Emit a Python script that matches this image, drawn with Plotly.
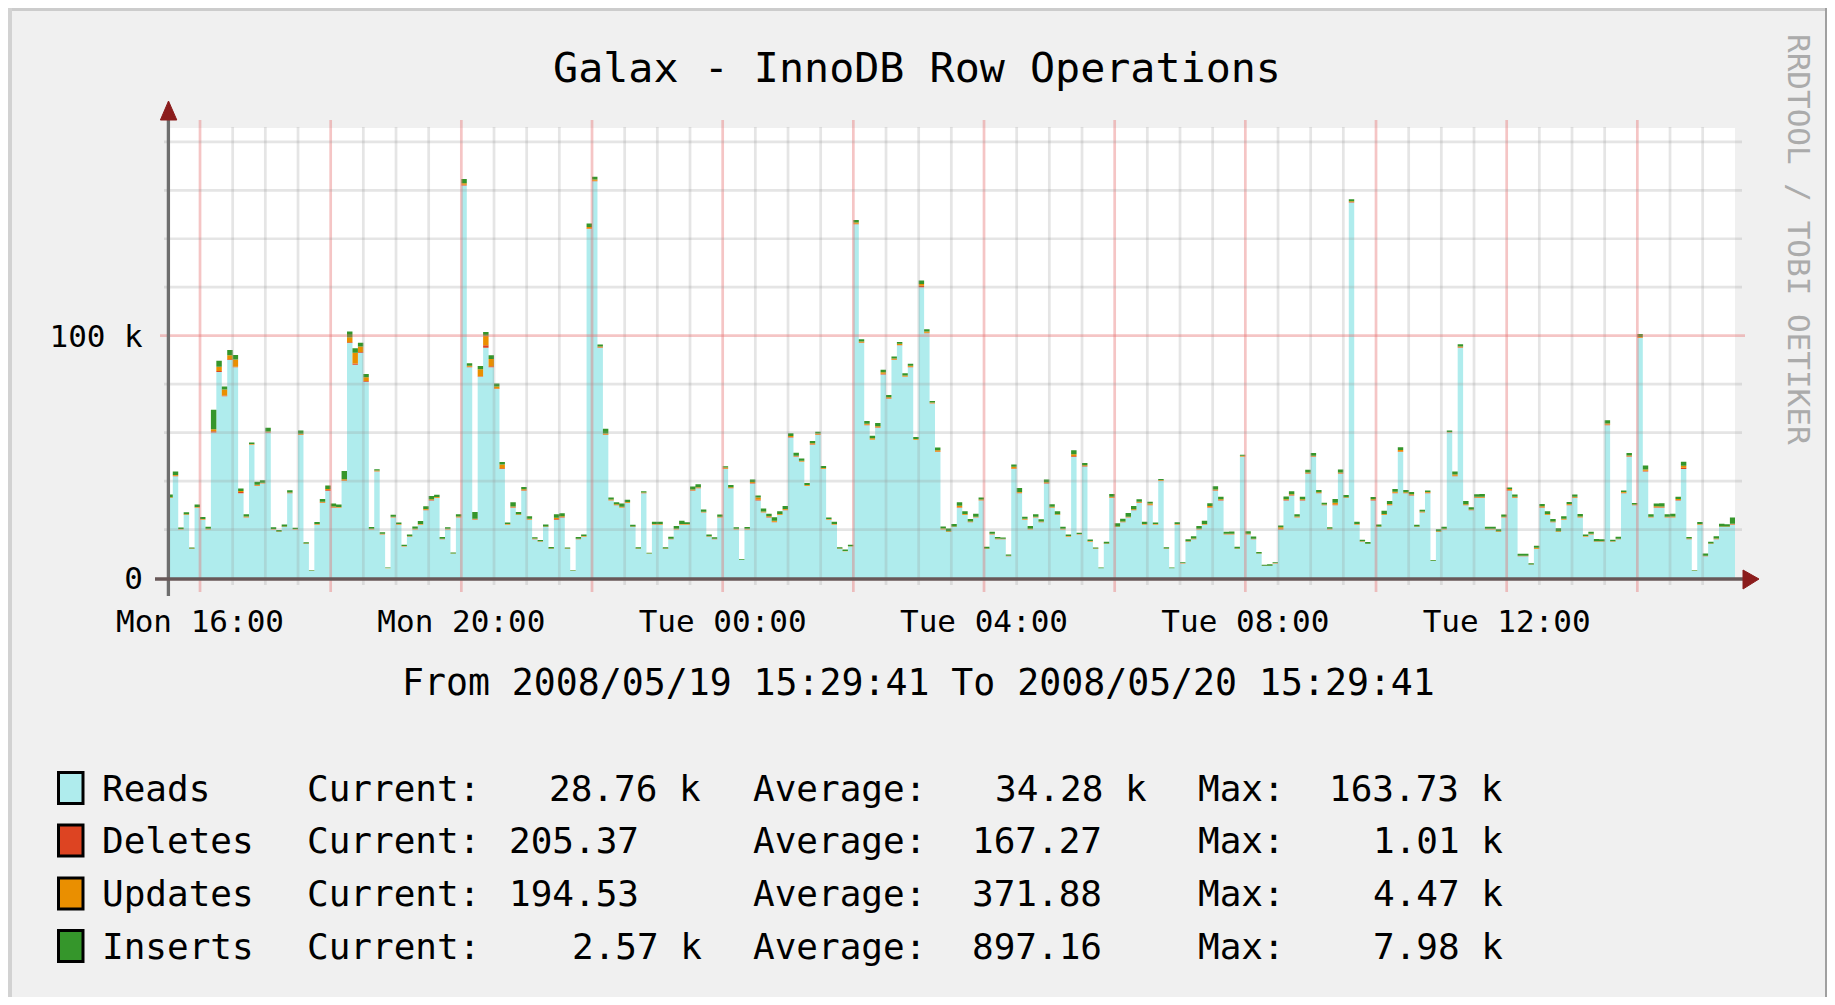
import pandas as pd
import plotly.graph_objects as go

# RRDtool graph "Galax - InnoDB Row Operations", 5 minute steps, values in thousands
START = "2008-05-19 15:29:41"
END = "2008-05-20 15:29:41"
FIRST_STEP = "2008-05-19 15:30:00"

READS_K = [
    33, 42, 20, 26, 12, 29, 24, 20, 60, 85, 75, 90, 87, 35, 25, 55, 38, 39, 60, 20, 19, 21, 35, 20,
    59, 14, 3, 22, 31, 36, 29, 29, 40, 97, 88, 93, 81, 20, 44, 18, 4, 25, 22, 13, 17, 20, 22, 28,
    32, 33, 16, 20, 10, 25, 162, 87, 24, 83, 95, 87, 78, 45, 22, 29, 26, 36, 24, 16, 15, 21, 12, 24,
    25, 12, 3, 16, 17, 144, 163.7, 95, 59, 32, 30, 29, 31, 21, 12, 35, 10, 22, 22, 12, 16, 20, 22, 22,
    36, 37, 27, 17, 16, 25, 45, 37, 20, 7.5, 20, 39, 32, 27, 25, 23, 26, 28, 58, 50, 48, 38, 55, 59,
    45, 24, 22, 12, 11, 13, 146, 97, 63, 57, 62, 84, 74, 90, 96, 83, 87, 57, 120, 101, 72, 52, 20, 19,
    21, 29, 26, 23, 25, 32, 12, 18, 16, 16, 9, 45, 35, 24, 20, 25, 23, 39, 29, 26, 20, 17, 50, 18,
    46, 15, 12, 4, 14, 33, 21, 23, 25, 28, 31, 22, 30, 22, 40, 12, 4, 22, 6, 15, 16, 20, 22, 29,
    36, 32, 18, 18, 12, 50, 18, 16, 10, 5, 5, 6, 20, 32, 34, 25, 32, 43, 50, 35, 30, 20, 30, 43,
    33, 155, 22, 15, 14, 32, 21, 26, 30, 35, 52, 35, 34, 21, 27, 35, 7, 19, 20, 60, 42, 95, 30, 28,
    33, 33, 20, 20, 19, 25, 36, 33, 9, 9, 5.5, 12, 29, 26, 23, 19, 24, 30, 33, 25, 17, 18, 15, 15,
    63, 15, 16, 35, 50, 30, 99, 44, 25, 29, 29, 25, 25, 32, 45, 16, 3, 22, 9, 14, 16, 21, 21, 22,
]

DELETES_K = [
    0.1, 0.2, 0.1, 0.1, 0.05, 0.1, 0.1, 0.1, 0.6, 0.4, 0.3, 0.3, 0.2, 0.5, 0.1, 0.1, 0.2, 0.1, 0.2, 0.1, 0.1, 0.1, 0.1, 0.1,
    0.2, 0.1, 0.02, 0.1, 0.2, 0.3, 0.2, 0.1, 0.2, 0.3, 0.5, 0.3, 0.3, 0.1, 0.1, 0.1, 0.05, 0.1, 0.1, 0.1, 0.1, 0.1, 0.1, 0.2,
    0.2, 0.1, 0.1, 0.1, 0.05, 0.1, 0.3, 0.2, 0.2, 0.3, 1.01, 0.4, 0.2, 0.3, 0.1, 0.2, 0.1, 0.2, 0.1, 0.1, 0.1, 0.1, 0.05, 0.3,
    0.2, 0.05, 0.02, 0.1, 0.1, 0.2, 0.2, 0.2, 0.2, 0.1, 0.1, 0.1, 0.1, 0.1, 0.05, 0.1, 0.05, 0.1, 0.1, 0.05, 0.1, 0.1, 0.1, 0.1,
    0.2, 0.2, 0.1, 0.1, 0.1, 0.1, 0.2, 0.1, 0.1, 0.02, 0.1, 0.2, 0.3, 0.1, 0.2, 0.2, 0.1, 0.2, 0.2, 0.2, 0.1, 0.1, 0.2, 0.2,
    0.1, 0.1, 0.1, 0.05, 0.05, 0.05, 0.2, 0.2, 0.2, 0.2, 0.2, 0.3, 0.2, 0.2, 0.2, 0.2, 0.2, 0.1, 0.6, 0.2, 0.1, 0.2, 0.1, 0.1,
    0.1, 0.2, 0.1, 0.1, 0.1, 0.1, 0.05, 0.1, 0.1, 0.05, 0.05, 0.2, 0.2, 0.1, 0.1, 0.1, 0.1, 0.2, 0.1, 0.1, 0.1, 0.1, 0.3, 0.05,
    0.2, 0.1, 0.05, 0.02, 0.1, 0.2, 0.1, 0.1, 0.1, 0.1, 0.2, 0.1, 0.2, 0.1, 0.1, 0.05, 0.02, 0.1, 0.05, 0.1, 0.1, 0.1, 0.1, 0.2,
    0.2, 0.2, 0.1, 0.1, 0.05, 0.1, 0.1, 0.1, 0.05, 0.02, 0.02, 0.05, 0.3, 0.2, 0.2, 0.1, 0.2, 0.2, 0.2, 0.1, 0.1, 0.1, 0.3, 0.2,
    0.1, 0.2, 0.1, 0.05, 0.05, 0.2, 0.1, 0.1, 0.2, 0.2, 0.2, 0.1, 0.2, 0.1, 0.1, 0.2, 0.05, 0.1, 0.1, 0.1, 0.2, 0.2, 0.1, 0.1,
    0.2, 0.2, 0.1, 0.1, 0.1, 0.1, 0.2, 0.2, 0.05, 0.05, 0.02, 0.1, 0.2, 0.1, 0.1, 0.1, 0.1, 0.2, 0.2, 0.1, 0.1, 0.1, 0.1, 0.1,
    0.3, 0.1, 0.1, 0.2, 0.2, 0.1, 0.2, 0.3, 0.1, 0.2, 0.2, 0.1, 0.1, 0.2, 0.5, 0.1, 0.02, 0.1, 0.05, 0.1, 0.1, 0.1, 0.1, 0.205,
]

UPDATES_K = [
    0.2, 0.3, 0.1, 0.2, 0.1, 0.2, 0.2, 0.2, 0.8, 1.8, 2.5, 1.6, 3.0, 0.4, 0.3, 0.2, 0.3, 0.2, 0.3, 0.1, 0.1, 0.2, 0.2, 0.1,
    0.3, 0.1, 0.05, 0.2, 0.3, 0.4, 0.3, 0.2, 0.5, 2.0, 4.47, 2.2, 1.5, 0.2, 0.3, 0.2, 0.1, 0.2, 0.2, 0.1, 0.1, 0.2, 0.2, 0.3,
    0.3, 0.3, 0.1, 0.2, 0.1, 0.3, 0.6, 0.4, 0.2, 2.8, 4.0, 3.0, 0.8, 1.5, 0.2, 0.3, 0.2, 0.4, 0.3, 0.2, 0.1, 0.2, 0.1, 0.6,
    0.3, 0.1, 0.05, 0.1, 0.2, 0.6, 0.5, 0.3, 0.4, 0.3, 0.3, 0.3, 0.3, 0.2, 0.1, 0.2, 0.1, 0.2, 0.2, 0.1, 0.1, 0.2, 0.2, 0.2,
    0.3, 0.3, 0.2, 0.1, 0.1, 0.2, 0.4, 0.3, 0.2, 0.05, 0.2, 0.4, 0.9, 0.3, 0.3, 0.4, 0.3, 0.3, 0.4, 0.3, 0.3, 0.3, 0.4, 0.4,
    0.3, 0.2, 0.2, 0.1, 0.1, 0.1, 0.5, 0.4, 0.5, 0.5, 0.4, 0.6, 0.4, 0.4, 0.5, 0.4, 0.4, 0.3, 0.7, 0.5, 0.3, 0.5, 0.3, 0.2,
    0.2, 0.6, 0.3, 0.2, 0.2, 0.3, 0.1, 0.2, 0.2, 0.1, 0.1, 0.7, 0.3, 0.3, 0.2, 0.2, 0.2, 0.3, 0.3, 0.2, 0.2, 0.2, 0.8, 0.1,
    0.3, 0.2, 0.1, 0.05, 0.1, 0.3, 0.2, 0.2, 0.2, 0.3, 0.3, 0.2, 0.5, 0.2, 0.3, 0.1, 0.05, 0.2, 0.1, 0.1, 0.2, 0.2, 0.2, 0.5,
    0.3, 0.3, 0.2, 0.2, 0.1, 0.3, 0.2, 0.1, 0.1, 0.05, 0.05, 0.1, 0.6, 0.3, 0.4, 0.3, 0.3, 0.3, 0.3, 0.3, 0.2, 0.2, 0.8, 0.3,
    0.2, 0.3, 0.2, 0.1, 0.1, 0.3, 0.2, 0.3, 0.3, 0.4, 0.6, 0.3, 0.4, 0.2, 0.3, 0.3, 0.1, 0.2, 0.2, 0.2, 0.5, 0.3, 0.3, 0.2,
    0.3, 0.3, 0.2, 0.2, 0.2, 0.2, 0.5, 0.3, 0.1, 0.1, 0.05, 0.4, 0.4, 0.3, 0.2, 0.2, 0.3, 0.3, 0.3, 0.3, 0.2, 0.2, 0.1, 0.1,
    0.5, 0.1, 0.1, 0.3, 0.4, 0.2, 0.3, 0.5, 0.2, 0.4, 0.3, 0.2, 0.3, 0.4, 0.8, 0.2, 0.05, 0.2, 0.1, 0.1, 0.2, 0.2, 0.2, 0.195,
]

INSERTS_K = [
    1.2, 1.5, 0.6, 0.8, 0.4, 1.0, 0.9, 0.8, 7.98, 2.5, 1.2, 2.2, 1.8, 1.0, 0.9, 0.6, 1.2, 1.0, 1.5, 0.7, 0.6, 0.8, 0.9, 0.5,
    1.4, 0.6, 0.2, 0.8, 1.1, 1.5, 1.2, 1.0, 3.5, 2.4, 1.8, 1.6, 1.4, 0.7, 0.5, 0.6, 0.2, 0.8, 0.6, 0.5, 0.7, 1.0, 1.2, 1.1,
    1.3, 1.0, 0.7, 0.6, 0.4, 0.9, 1.8, 1.0, 2.8, 1.4, 1.5, 1.5, 1.3, 1.1, 0.6, 1.8, 0.9, 1.0, 1.1, 0.5, 0.5, 0.8, 0.6, 1.4,
    1.2, 0.4, 0.2, 0.7, 0.6, 1.5, 1.2, 0.9, 2.0, 0.8, 0.9, 1.3, 0.9, 0.7, 0.5, 0.5, 0.3, 0.9, 0.9, 0.5, 0.8, 1.2, 1.3, 0.7,
    1.3, 1.2, 1.0, 0.7, 0.6, 0.9, 0.5, 1.0, 0.6, 0.3, 0.7, 1.0, 0.8, 1.3, 1.0, 1.5, 1.1, 1.2, 1.1, 1.2, 0.9, 0.8, 0.9, 0.8,
    0.8, 0.7, 0.9, 0.5, 0.6, 0.6, 1.0, 0.9, 1.1, 1.0, 1.4, 1.0, 0.9, 0.8, 0.7, 0.9, 0.8, 0.8, 1.5, 1.0, 0.6, 1.2, 0.9, 1.1,
    1.0, 1.5, 1.1, 1.0, 1.2, 0.8, 0.7, 0.8, 0.6, 0.6, 0.5, 0.9, 1.6, 0.9, 1.2, 1.0, 0.9, 1.1, 1.0, 1.2, 0.9, 0.7, 1.6, 0.5,
    1.0, 0.6, 0.4, 0.3, 0.8, 1.2, 1.3, 1.2, 1.5, 1.3, 1.0, 0.9, 0.8, 0.6, 0.5, 0.5, 0.3, 0.7, 0.3, 0.8, 0.9, 1.2, 1.3, 1.1,
    1.4, 1.0, 0.8, 0.9, 0.7, 0.5, 1.0, 0.9, 0.6, 0.4, 0.6, 0.4, 0.8, 1.1, 1.2, 0.9, 1.0, 1.2, 1.1, 0.9, 0.8, 0.6, 1.5, 1.3,
    0.9, 0.8, 0.9, 0.6, 0.7, 0.9, 0.8, 1.4, 1.3, 1.1, 1.2, 0.9, 0.9, 0.7, 0.8, 0.6, 0.3, 0.8, 0.9, 0.6, 1.3, 1.0, 1.4, 0.9,
    1.1, 1.2, 0.8, 0.9, 0.8, 0.9, 0.6, 1.0, 0.9, 0.9, 0.5, 0.8, 0.9, 1.1, 1.0, 1.2, 1.1, 0.9, 1.0, 1.0, 0.7, 0.8, 0.9, 0.8,
    1.3, 0.6, 0.8, 0.6, 1.0, 0.7, 1.2, 1.6, 1.0, 1.1, 1.3, 1.0, 1.1, 0.9, 1.7, 0.6, 0.2, 0.8, 1.0, 0.8, 0.9, 1.1, 0.9, 2.57,
]

SERIES = ["Reads", "Deletes", "Updates", "Inserts"]
COLORS = ["#AFECED", "#DD4422", "#EA8F00", "#35962B"]
CURRENT = ["28.76 k", "205.37", "194.53", "2.57 k"]
AVERAGE = ["34.28 k", "167.27", "371.88", "897.16"]
MAXIMUM = ["163.73 k", "1.01 k", "4.47 k", "7.98 k"]

TICK_TIMES = ["2008-05-19 16:00", "2008-05-19 20:00", "2008-05-20 00:00",
              "2008-05-20 04:00", "2008-05-20 08:00", "2008-05-20 12:00"]
TICK_LABELS = ["Mon 16:00", "Mon 20:00", "Tue 00:00", "Tue 04:00", "Tue 08:00", "Tue 12:00"]
Y_TICKS = [0, 100]
Y_LABELS = ["0", "100 k"]
Y_MAX = 185.7

TITLE = "Galax - InnoDB Row Operations"
PERIOD = "From 2008/05/19 15:29:41 To 2008/05/20 15:29:41"
CREDIT = "RRDTOOL / TOBI OETIKER"

FONT = "DejaVu Sans Mono"
W, H = 1823, 989
ML, MR, MT, MB = 159, 96, 120, 419
PAGE = 8  # body margin of the html page


def xp(page_x):
    """Page pixel x -> paper x."""
    return (page_x - PAGE - ML) / (W - ML - MR)


def yp(page_y):
    """Page pixel y -> paper y."""
    return (H - MB + PAGE - page_y) / (H - MT - MB)


# step times: one extra edge so the last 5 minute step gets its width
times = pd.date_range(FIRST_STEP, periods=len(READS_K) + 1, freq="5min")

fig = go.Figure()

# stacked areas (RRD AREA + STACK)
base = [0.0] * len(READS_K)
for i, values in enumerate([READS_K, DELETES_K, UPDATES_K, INSERTS_K]):
    base = [b + v for b, v in zip(base, values)]
    fig.add_trace(go.Scatter(
        x=times,
        y=base + [base[-1]],
        mode="lines",
        line=dict(width=0, shape="hv"),
        fill="tozeroy" if i == 0 else "tonexty",
        fillcolor=COLORS[i],
        name=SERIES[i],
        hoverinfo="skip",
    ))

shapes = []

# grid drawn on top of the data like rrdtool does
minor_grey = "rgba(150,150,150,0.25)"
major_red = "rgba(230,110,110,0.40)"
for t in pd.date_range("2008-05-19 15:30", "2008-05-20 15:00", freq="30min"):
    major = t.minute == 0 and t.hour % 2 == 0
    shapes.append(dict(
        type="line", xref="x", yref="paper", layer="above",
        x0=t, x1=t,
        y0=yp(592 if major else 585), y1=yp(120 if major else 127),
        line=dict(color=major_red if major else minor_grey, width=2.7),
    ))
for v in range(20, 181, 20):
    major = v == 100
    shapes.append(dict(
        type="line", xref="paper", yref="y", layer="above",
        x0=xp(160 if major else 164), x1=xp(1745 if major else 1742),
        y0=v, y1=v,
        line=dict(color=major_red if major else minor_grey, width=2.7),
    ))

# axes with arrow heads
shapes.append(dict(type="line", xref="paper", yref="paper", layer="above",
                   x0=xp(168.4), x1=xp(168.4), y0=yp(596), y1=yp(117),
                   line=dict(color="#6E6E6E", width=3.3)))
shapes.append(dict(type="line", xref="paper", yref="paper", layer="above",
                   x0=xp(155), x1=xp(1745), y0=yp(579), y1=yp(579),
                   line=dict(color="#685858", width=3.7)))
arrow = "#8B1C1C"
shapes.append(dict(
    type="path", xref="paper", yref="paper", layer="above",
    path=f"M {xp(168.5)},{yp(101)} L {xp(176.8)},{yp(120)} L {xp(160.4)},{yp(120)} Z",
    fillcolor=arrow, line=dict(color=arrow, width=1),
))
shapes.append(dict(
    type="path", xref="paper", yref="paper", layer="above",
    path=f"M {xp(1759)},{yp(579)} L {xp(1743)},{yp(570)} L {xp(1743)},{yp(589)} Z",
    fillcolor=arrow, line=dict(color=arrow, width=1),
))

# frame of the rrd image
shapes.append(dict(type="line", xref="paper", yref="paper",
                   x0=xp(8), x1=xp(1831), y0=yp(9.5), y1=yp(9.5),
                   line=dict(color="#CCCCCC", width=3)))
shapes.append(dict(type="line", xref="paper", yref="paper",
                   x0=xp(10), x1=xp(10), y0=yp(8), y1=yp(997),
                   line=dict(color="#D2D2D2", width=4)))
shapes.append(dict(type="line", xref="paper", yref="paper",
                   x0=xp(1828), x1=xp(1828), y0=yp(8), y1=yp(997),
                   line=dict(color="#A0A0A0", width=6)))

annotations = []

# legend rows: colour box + name + Current/Average/Max
row_y = [788, 840.5, 893.5, 946]
cur_x = [548, 508, 508, 571]
avg_x = [994, 971, 971, 971]
max_x = [1328, 1372, 1372, 1372]
text_font = dict(family=FONT, size=36, color="#000000")
for i, name in enumerate(SERIES):
    y = row_y[i]
    shapes.append(dict(type="rect", xref="paper", yref="paper",
                       x0=xp(58.5), x1=xp(83), y0=yp(y - 15.5), y1=yp(y + 15.5),
                       fillcolor=COLORS[i], line=dict(color="#000000", width=3)))
    pieces = [(100, name), (305, "Current:"), (cur_x[i] - 1, CURRENT[i]),
              (751, "Average:"), (avg_x[i] - 1, AVERAGE[i]),
              (1196, "Max:"), (max_x[i] - 1, MAXIMUM[i])]
    for x, txt in pieces:
        annotations.append(dict(
            text=txt, xref="paper", yref="paper", x=xp(x), y=yp(y),
            xanchor="left", yanchor="middle", showarrow=False, font=text_font,
        ))

annotations.append(dict(
    text=PERIOD, xref="paper", yref="paper", x=xp(918), y=yp(682),
    xanchor="center", yanchor="middle", showarrow=False,
    font=dict(family=FONT, size=36.5, color="#000000"),
))
annotations.append(dict(
    text=CREDIT, xref="paper", yref="paper", x=xp(1799), y=yp(239),
    xanchor="center", yanchor="middle", showarrow=False, textangle=90,
    font=dict(family=FONT, size=31, color="#ABABAB"),
))

fig.update_layout(
    width=W,
    height=H,
    margin=dict(l=ML, r=MR, t=MT, b=MB, pad=0),
    paper_bgcolor="#F0F0F0",
    plot_bgcolor="#FFFFFF",
    showlegend=False,
    title=dict(
        text=TITLE, x=(917 - PAGE) / W, xref="container", xanchor="center",
        y=1 - (67 - PAGE) / H, yref="container", yanchor="middle",
        font=dict(family=FONT, size=41.7, color="#000000"),
    ),
    xaxis=dict(
        type="date",
        range=[START, END],
        showgrid=False, zeroline=False, showline=False,
        tickmode="array", tickvals=TICK_TIMES, ticktext=TICK_LABELS,
        ticks="outside", ticklen=16, tickcolor="rgba(0,0,0,0)",
        tickfont=dict(family=FONT, size=31, color="#000000"),
    ),
    yaxis=dict(
        range=[0, Y_MAX],
        showgrid=False, zeroline=False, showline=False,
        tickmode="array", tickvals=Y_TICKS, ticktext=Y_LABELS,
        ticks="outside", ticklen=17, tickcolor="rgba(0,0,0,0)",
        tickfont=dict(family=FONT, size=31, color="#000000"),
    ),
    shapes=shapes,
    annotations=annotations,
)

fig.write_html("out.html", config={"displayModeBar": False})
